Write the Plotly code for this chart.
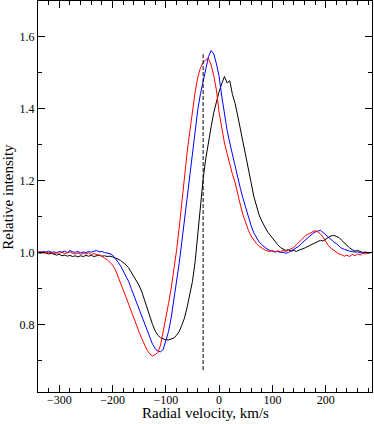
import numpy as np
import plotly.graph_objects as go

# radial velocity grid, km/s (5 km/s sampling)
velocity = np.arange(-340, 290, 5)

black_profile = [
    1.000, 0.998, 1.001, 0.999, 0.996, 0.998, 0.995, 0.993, 0.995, 0.991,
    0.993, 0.990, 0.992, 0.989, 0.991, 0.988, 0.991, 0.989, 0.992, 0.990,
    0.992, 0.989, 0.991, 0.993, 0.990, 0.991, 0.989, 0.990, 0.988, 0.986,
    0.982, 0.978, 0.973, 0.966, 0.958, 0.945, 0.935, 0.922, 0.908, 0.890,
    0.866, 0.843, 0.822, 0.800, 0.782, 0.770, 0.763, 0.760, 0.757, 0.757,
    0.759, 0.762, 0.770, 0.780, 0.798, 0.818, 0.848, 0.880, 0.920, 0.975,
    1.055, 1.130, 1.205, 1.262, 1.310, 1.350, 1.390, 1.420, 1.448, 1.470,
    1.490, 1.472, 1.478, 1.440, 1.415, 1.380, 1.345, 1.310, 1.272, 1.235,
    1.195, 1.157, 1.128, 1.105, 1.088, 1.073, 1.060, 1.050, 1.040, 1.030,
    1.022, 1.014, 1.010, 1.006, 1.008, 1.004, 1.006, 1.003, 1.007, 1.009,
    1.012, 1.016, 1.020, 1.024, 1.028, 1.030, 1.034, 1.032, 1.038, 1.042,
    1.046, 1.048, 1.045, 1.042, 1.034, 1.026, 1.020, 1.013, 1.008, 1.004,
    1.006, 1.002, 1.000, 1.001, 0.999, 1.000,
]

blue_profile = [
    1.002, 1.000, 1.003, 1.001, 1.004, 1.000, 1.002, 0.999, 1.003, 1.001,
    1.004, 1.000, 1.006, 1.002, 1.001, 1.003, 0.999, 1.002, 1.000, 1.003,
    1.001, 1.004, 1.006, 1.002, 1.003, 1.000, 0.999, 0.997, 0.993, 0.985,
    0.974, 0.963, 0.950, 0.937, 0.920, 0.900, 0.880, 0.860, 0.840, 0.820,
    0.800, 0.780, 0.762, 0.745, 0.733, 0.725, 0.724, 0.730, 0.755, 0.780,
    0.818, 0.866, 0.918, 0.970, 1.030, 1.090, 1.155, 1.220, 1.285, 1.345,
    1.398, 1.442, 1.480, 1.515, 1.545, 1.562, 1.553, 1.525, 1.490, 1.435,
    1.383, 1.340, 1.305, 1.272, 1.243, 1.212, 1.178, 1.150, 1.124, 1.098,
    1.075, 1.055, 1.041, 1.030, 1.022, 1.015, 1.010, 1.006, 1.004, 1.002,
    1.003, 1.000, 1.001, 0.998, 1.000, 1.004, 1.008, 1.012, 1.018, 1.026,
    1.033, 1.040, 1.046, 1.052, 1.057, 1.060, 1.062, 1.056, 1.049, 1.042,
    1.036, 1.030, 1.025, 1.018, 1.012, 1.009, 1.006, 1.004, 1.003, 1.001,
    1.002, 0.999, 1.000, 1.001, 0.999, 1.000,
]

red_profile = [
    1.000, 1.003, 0.998, 1.001, 0.999, 1.002, 0.997, 1.000, 0.998, 1.001,
    0.997, 0.999, 1.002, 0.998, 0.996, 0.999, 0.995, 0.998, 0.996, 0.999,
    0.994, 0.997, 0.995, 0.992, 0.990, 0.984, 0.980, 0.973, 0.965, 0.953,
    0.935, 0.916, 0.897, 0.877, 0.857, 0.836, 0.818, 0.798, 0.778, 0.760,
    0.742, 0.728, 0.718, 0.712, 0.716, 0.722, 0.742, 0.778, 0.812, 0.858,
    0.900, 0.948, 1.005, 1.068, 1.140, 1.220, 1.280, 1.337, 1.396, 1.447,
    1.488, 1.514, 1.528, 1.537, 1.540, 1.522, 1.492, 1.452, 1.390, 1.342,
    1.305, 1.275, 1.245, 1.218, 1.195, 1.160, 1.132, 1.104, 1.082, 1.062,
    1.046, 1.034, 1.025, 1.018, 1.012, 1.008, 1.005, 1.003, 1.006, 1.001,
    1.005, 1.002, 1.006, 1.003, 1.007, 1.010, 1.014, 1.022, 1.028, 1.036,
    1.044, 1.050, 1.053, 1.058, 1.061, 1.058, 1.052, 1.043, 1.030, 1.020,
    1.012, 1.006, 1.002, 0.996, 0.994, 0.990, 0.993, 0.989, 0.995, 0.991,
    0.996, 0.993, 0.998, 0.996, 0.999, 1.000,
]

# vertical reference marker
marker_velocity = [-30, -30]
marker_intensity = [0.673, 1.552]

assert len(black_profile) == len(velocity)
assert len(blue_profile) == len(velocity)
assert len(red_profile) == len(velocity)

serif = "Liberation Serif, Times New Roman, serif"

fig = go.Figure()

for profile, colour in [
    (black_profile, "black"),
    (blue_profile, "#0000ff"),
    (red_profile, "#ff0000"),
]:
    fig.add_trace(
        go.Scatter(
            x=velocity,
            y=profile,
            mode="lines",
            line=dict(color=colour, width=1),
            showlegend=False,
        )
    )

fig.add_trace(
    go.Scatter(
        x=marker_velocity,
        y=marker_intensity,
        mode="lines",
        line=dict(color="black", width=1, dash="4px,2px"),
        showlegend=False,
    )
)

axis_style = dict(
    automargin=False,
    showline=True,
    linecolor="black",
    linewidth=1,
    mirror="ticks",
    ticks="inside",
    ticklen=7,
    tickcolor="black",
    tickwidth=1,
    showgrid=False,
    zeroline=False,
    tickfont=dict(family=serif, size=12, color="black"),
)

fig.update_xaxes(
    range=[-340, 287],
    tick0=-300,
    dtick=100,
    ticklabelstandoff=-3,
    minor=dict(dtick=20, ticklen=4, ticks="inside", tickcolor="black", showgrid=False),
    **axis_style,
)
fig.update_yaxes(
    range=[0.612, 1.7],
    tick0=0.8,
    dtick=0.2,
    tickformat=".1f",
    minor=dict(dtick=0.1, ticklen=4, ticks="inside", tickcolor="black", showgrid=False),
    **axis_style,
)

fig.update_layout(
    width=374,
    height=424,
    margin=dict(l=38, r=2, t=1, b=32),
    paper_bgcolor="white",
    plot_bgcolor="white",
    font=dict(family=serif, color="black"),
    annotations=[
        dict(
            text="Radial velocity, km/s",
            xref="paper",
            yref="paper",
            x=0.5,
            y=-0.054,
            xanchor="center",
            yanchor="middle",
            showarrow=False,
            font=dict(family=serif, size=15, color="black"),
        ),
        dict(
            text="Relative intensity",
            xref="paper",
            yref="paper",
            x=-0.092,
            y=0.5,
            xanchor="center",
            yanchor="middle",
            textangle=-90,
            showarrow=False,
            font=dict(family=serif, size=15, color="black"),
        ),
    ],
)

# drop the default page margin so the 374x424 figure fills the window exactly
page_fix = (
    "document.body.style.margin='0';"
    "document.body.style.overflow='hidden';"
    "Plotly.relayout(document.getElementById('{plot_id}'), {width: 374, height: 424});"
)

fig.write_html(
    "out.html",
    config={"displayModeBar": False},
    post_script=page_fix,
)
